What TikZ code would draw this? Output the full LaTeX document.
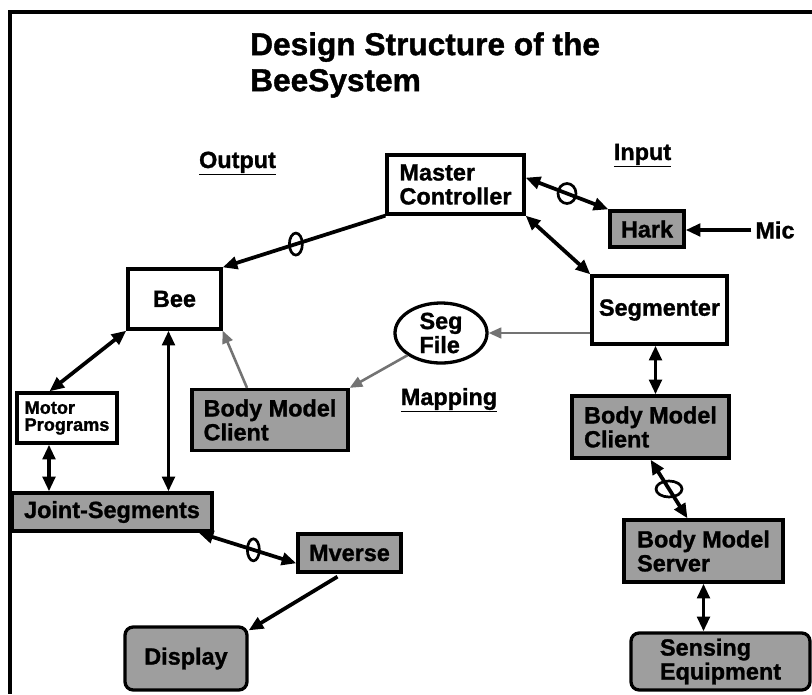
\documentclass[tikz,border=0pt]{standalone}
\usepackage{fontspec}
\setmainfont{Liberation Sans}[BoldFeatures={FakeBold=1.2}]
\usepackage{tikz}
\usetikzlibrary{arrows.meta,calc,shapes.geometric}

\begin{document}
\begin{tikzpicture}[x=0.03cm,y=-0.03cm,
  >={Triangle[length=4.4mm,width=3.7mm]},
  every node/.style={font=\bfseries\fontsize{20}{20.5}\selectfont},
  unit/.style={draw,line width=2.8pt,align=left,inner sep=0pt},
  shaded/.style={unit,fill=black!38},
  rounded/.style={shaded,rounded corners=7pt},
  file/.style={ellipse,draw,line width=2.8pt,align=left,inner sep=0pt},
  heading/.style={anchor=base},
  link/.style={line width=3.2pt,->},
  both/.style={line width=3.2pt,<->},
  faint/.style={line width=2.2pt,black!55,-{Triangle[length=3.8mm,width=3.2mm]}},
  ring/.style={ellipse,draw,line width=2.3pt,inner sep=0pt}]
\useasboundingbox (0,0) rectangle (812,694);
\draw[line width=3pt] (812,12) -| (10,694);

\node[anchor=north west,align=left,inner sep=0pt,font=\bfseries\fontsize{27}{30.7}\selectfont] (title) at (250,32) {Design Structure of the\\BeeSystem};

\node[heading] (output) at (237.5,168) {\underline{Output}};
\node[heading] (input) at (642.5,160) {\underline{Input}};
\node[heading] (mapping) at (449,405) {\underline{Mapping}};

\node[unit,minimum width=4.11cm,minimum height=1.77cm] (master) at (455.5,184.5) {Master\\Controller};
\node[shaded,minimum width=2.22cm,minimum height=1.08cm] (hark) at (647,229) {Hark};
\node (mic) at (775,230) {Mic};
\node[unit,minimum width=2.79cm,minimum height=1.8cm] (bee) at (174.5,299) {Bee};
\node[file,minimum width=2.76cm,minimum height=1.8cm] (segfile) at (441,333) {Seg\\File};
\node[unit,minimum width=4.05cm,minimum height=2.04cm] (segmenter) at (659.5,310) {Segmenter};
\node[shaded,minimum width=4.68cm,minimum height=1.83cm] (bmclient) at (270,420) {Body Model\\Client};
\node[unit,minimum width=3cm,minimum height=1.5cm,font=\bfseries\fontsize{15.5}{14.5}\selectfont] (motor) at (67,418) {Motor\\Programs};
\node[shaded,minimum width=4.71cm,minimum height=1.86cm] (client) at (650.5,427) {Body Model\\Client};
\node[shaded,minimum width=6cm,minimum height=1.14cm] (joints) at (112,512) {Joint-Segments};
\node[shaded,minimum width=3.09cm,minimum height=1.14cm] (mverse) at (349.5,553) {Mverse};
\node[shaded,minimum width=4.77cm,minimum height=1.86cm] (server) at (703.5,551) {Body Model\\Server};
\node[rounded,minimum width=3.66cm,minimum height=1.89cm] (display) at (186,658.5) {Display};
\node[rounded,minimum width=5.37cm,minimum height=1.71cm] (sensing) at (720.5,661.5) {Sensing\\Equipment};

\draw[link] (master.south west) -- node[ring,pos=.55,minimum width=.39cm,minimum height=.66cm] (ringa) {} (bee.north east);
\draw[both] ($(master.north east)!.39!(master.south east)$) -- node[ring,minimum width=.54cm,minimum height=.6cm] (ringb) {} (hark.north west);
\draw[both] (master.south east) -- (segmenter.north west);
\draw[link] (mic.west) -- (mic.west -| hark.east);

\coordinate (beefoot) at ($(bee.south)+(-6,0)$);
\coordinate (motorfoot) at ($(motor.south)+(-18,0)$);
\draw[both] (bee.south west) -- ($(motor.north west)!.33!(motor.north east)$);
\draw[both] (beefoot) -- (beefoot |- joints.north);
\draw[both] (motorfoot) -- (motorfoot |- joints.north);

\draw[faint] ($(bmclient.north)+(-23,0)$) -- (bee.south east);
\draw[faint] (segfile.south west) -- (bmclient.north east);
\draw[faint] (segfile.east -| segmenter.west) -- (segfile.east);

\coordinate (segfoot) at ($(segmenter.south)+(-4,0)$);
\draw[both] (segfoot) -- (segfoot |- client.north);
\draw[both] (client.south) -- node[ring,minimum width=.78cm,minimum height=.48cm] (ringc) {} ($(server.north)+(-16,0)$);
\draw[both] (server.south) -- (server.south |- sensing.north);

\draw[both] ($(joints.south east)+(-15,0)$) -- node[ring,pos=.56,minimum width=.36cm,minimum height=.66cm] (ringd) {} ($(mverse.west)!.5!(mverse.south west)$);
\draw[link,shorten <=5pt] ($(mverse.south)+(-7,0)$) -- ($(display.north east)+(0,5)$);

\end{tikzpicture}
\end{document}
